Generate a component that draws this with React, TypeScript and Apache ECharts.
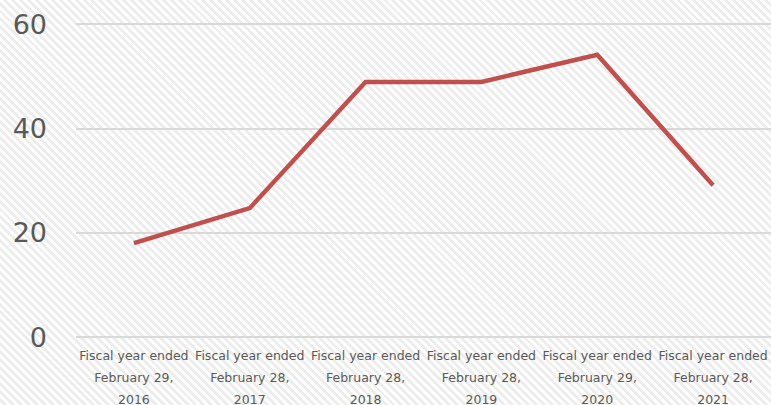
import React, { useEffect, useRef } from "react";
import * as echarts from "echarts";

const categories = [
  "Fiscal year ended\nFebruary 29,\n2016",
  "Fiscal year ended\nFebruary 28,\n2017",
  "Fiscal year ended\nFebruary 28,\n2018",
  "Fiscal year ended\nFebruary 28,\n2019",
  "Fiscal year ended\nFebruary 29,\n2020",
  "Fiscal year ended\nFebruary 28,\n2021",
];
const values = [18.0, 24.7, 48.9, 48.9, 54.1, 29.1];

export default function App() {
  const ref = useRef<HTMLDivElement>(null);
  useEffect(() => {
    if (!ref.current) return;
    const chart = echarts.init(ref.current, undefined, { renderer: "svg" });
    chart.setOption({
      animation: false,
      grid: {
        left: 76,
        right: 0,
        top: 24,
        bottom: 68,
        containLabel: false,
        outerBoundsMode: "none",
      },
      xAxis: {
        type: "category",
        data: categories,
        boundaryGap: true,
        axisLine: { show: false },
        axisTick: { show: false },
        axisLabel: {
          interval: 0,
          margin: 7,
          color: "#595959",
          fontSize: 12.5,
          lineHeight: 22,
          fontFamily: "DejaVu Sans",
        },
      },
      yAxis: {
        type: "value",
        min: 0,
        max: 60,
        interval: 20,
        axisLine: { show: false },
        axisTick: { show: false },
        axisLabel: {
          margin: 29,
          color: "#595959",
          fontSize: 27,
          fontFamily: "DejaVu Sans",
        },
        splitLine: { lineStyle: { color: "#d9d9d9", width: 2 } },
      },
      series: [
        {
          type: "line",
          data: values,
          symbol: "none",
          lineStyle: { color: "#c0504d", width: 4.5, join: "miter" },
        },
      ],
    });
    return () => chart.dispose();
  }, []);
  return (
    <div
      ref={ref}
      style={{
        width: 771,
        height: 405,
        position: "absolute",
        left: 0,
        top: 0,
        background:
          "repeating-linear-gradient(45deg, #ffffff 0px, #ffffff 2.8px, #ededed 2.8px, #ededed 5.6px)",
      }}
    />
  );
}
